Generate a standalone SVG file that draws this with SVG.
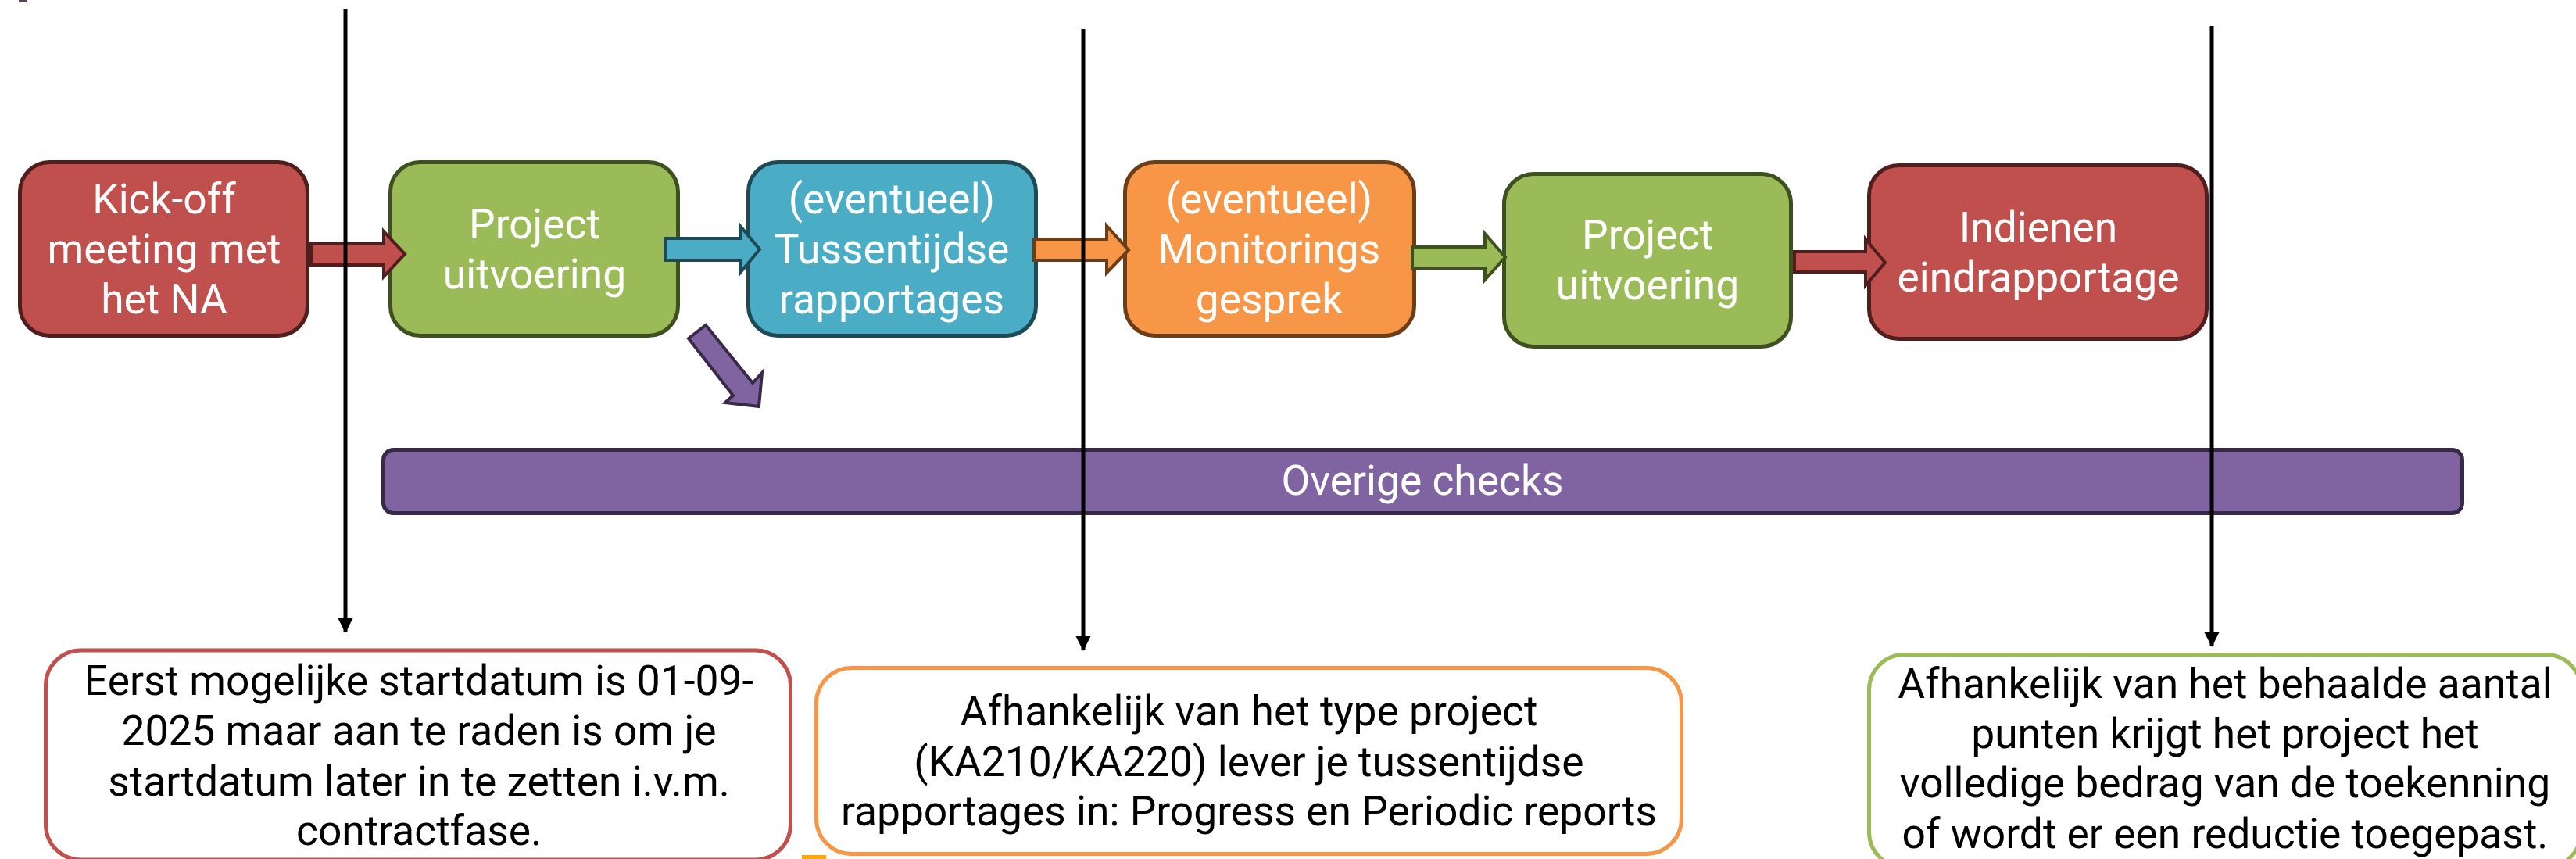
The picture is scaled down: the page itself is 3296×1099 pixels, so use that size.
<svg xmlns="http://www.w3.org/2000/svg" width="3296" height="1099" viewBox="0 0 3296 1099">
<defs>
<style>
.lbl{font-family:Roboto,"Liberation Sans",sans-serif;font-size:53.33px;fill:#ffffff;text-anchor:middle}
.txt{font-family:Roboto,"Liberation Sans",sans-serif;font-size:53.33px;fill:#000000;text-anchor:middle}
.node{stroke-width:5}
.red{fill:#c0504d;stroke:#511e1e}
.green{fill:#9bbb59;stroke:#3e5020}
.blue{fill:#4bacc6;stroke:#1e4a56}
.orange{fill:#f79646;stroke:#6c3d17}
.purple{fill:#8064a2;stroke:#382946}
.note{fill:#ffffff;stroke-width:5}
.arr{stroke-width:4;stroke-linejoin:miter}
.vline{stroke:#000000;stroke-width:5;fill:none}
</style>
<marker id="ah" markerUnits="userSpaceOnUse" markerWidth="20" markerHeight="20" viewBox="0 0 20 20" refX="18" refY="10" orient="auto">
<path d="M0,0.5 L19,10 L0,19.5 Z" fill="#000000"/>
</marker>
</defs>
<rect x="24" y="0" width="11" height="2" fill="#5b3f5f"/>
<rect x="1026" y="1094" width="31" height="5" fill="#ffa800"/>
<g id="node-kickoff">
<rect class="node red" x="25.5" y="207.5" width="368" height="222" rx="38"/>
<text class="lbl" x="210" y="273">Kick-off</text>
<text class="lbl" x="210" y="337">meeting met</text>
<text class="lbl" x="210" y="401">het NA</text>
</g>
<g id="node-project1">
<rect class="node green" x="499.5" y="207.5" width="368" height="222" rx="38"/>
<text class="lbl" x="684" y="305">Project</text>
<text class="lbl" x="684" y="369">uitvoering</text>
</g>
<g id="node-tussentijdse">
<rect class="node blue" x="957.5" y="207.5" width="368" height="222" rx="38"/>
<text class="lbl" x="1141" y="273">(eventueel)</text>
<text class="lbl" x="1141" y="337">Tussentijdse</text>
<text class="lbl" x="1141" y="401">rapportages</text>
</g>
<g id="node-monitoring">
<rect class="node orange" x="1439.5" y="207.5" width="370" height="222" rx="38"/>
<text class="lbl" x="1624" y="273">(eventueel)</text>
<text class="lbl" x="1624" y="337">Monitorings</text>
<text class="lbl" x="1624" y="401">gesprek</text>
</g>
<g id="node-project2">
<rect class="node green" x="1924.5" y="222.5" width="367" height="221" rx="38"/>
<text class="lbl" x="2108" y="319">Project</text>
<text class="lbl" x="2108" y="383">uitvoering</text>
</g>
<g id="node-indienen">
<rect class="node red" x="2391.5" y="211.5" width="432" height="222" rx="38"/>
<text class="lbl" x="2608" y="309">Indienen</text>
<text class="lbl" x="2608" y="373">eindrapportage</text>
</g>
<g id="node-overige">
<rect class="node purple" x="490.5" y="575.5" width="2660" height="81" rx="13"/>
<text class="lbl" x="1820" y="633">Overige checks</text>
</g>
<g id="note-start">
<rect class="note" stroke="#c0504d" x="58.5" y="832" width="953" height="268" rx="45"/>
<text class="txt" x="536" y="889">Eerst mogelijke startdatum is 01-09-</text>
<text class="txt" x="536" y="953">2025 maar aan te raden is om je</text>
<text class="txt" x="536" y="1018">startdatum later in te zetten i.v.m.</text>
<text class="txt" x="536" y="1081">contractfase.</text>
</g>
<g id="note-rapport">
<rect class="note" stroke="#f79646" x="1044.5" y="854.5" width="1107" height="238" rx="45"/>
<text class="txt" x="1598" y="928">Afhankelijk van het type project</text>
<text class="txt" x="1598" y="993">(KA210/KA220) lever je tussentijdse</text>
<text class="txt" x="1598" y="1056">rapportages in: Progress en Periodic reports</text>
</g>
<g id="note-eind">
<rect class="note" stroke="#9bbb59" x="2391.5" y="837.5" width="911" height="272" rx="45"/>
<text class="txt" x="2847" y="893">Afhankelijk van het behaalde aantal</text>
<text class="txt" x="2847" y="957">punten krijgt het project het</text>
<text class="txt" x="2847" y="1020">volledige bedrag van de toekenning</text>
<text class="txt" x="2847" y="1085">of wordt er een reductie toegepast.</text>
</g>
<g id="connectors">
<polygon class="arr red" points="398,312 491,312 491,296 518,325 491,354 491,339 398,339"/>
<polygon class="arr blue" points="851,305 947,305 947,289 972,319 947,349 947,333 851,333"/>
<polygon class="arr orange" points="1323,306 1416,306 1416,289 1444,320 1416,349 1416,333 1323,333"/>
<polygon class="arr green" points="1807,316 1900,316 1900,299 1926,329 1900,358 1900,343 1807,343"/>
<polygon class="arr red" points="2296,322 2387,322 2387,306 2412,336 2387,365 2387,348 2296,348"/>
<polygon class="arr purple" points="881,433 903,416 963,490 975,477 971,520 928,515 938,506"/>
<line class="vline" x1="442" y1="12" x2="442" y2="809" marker-end="url(#ah)"/>
<line class="vline" x1="1386" y1="37" x2="1386" y2="832" marker-end="url(#ah)"/>
<line class="vline" x1="2830" y1="33" x2="2830" y2="827" marker-end="url(#ah)"/>
</g>
</svg>
